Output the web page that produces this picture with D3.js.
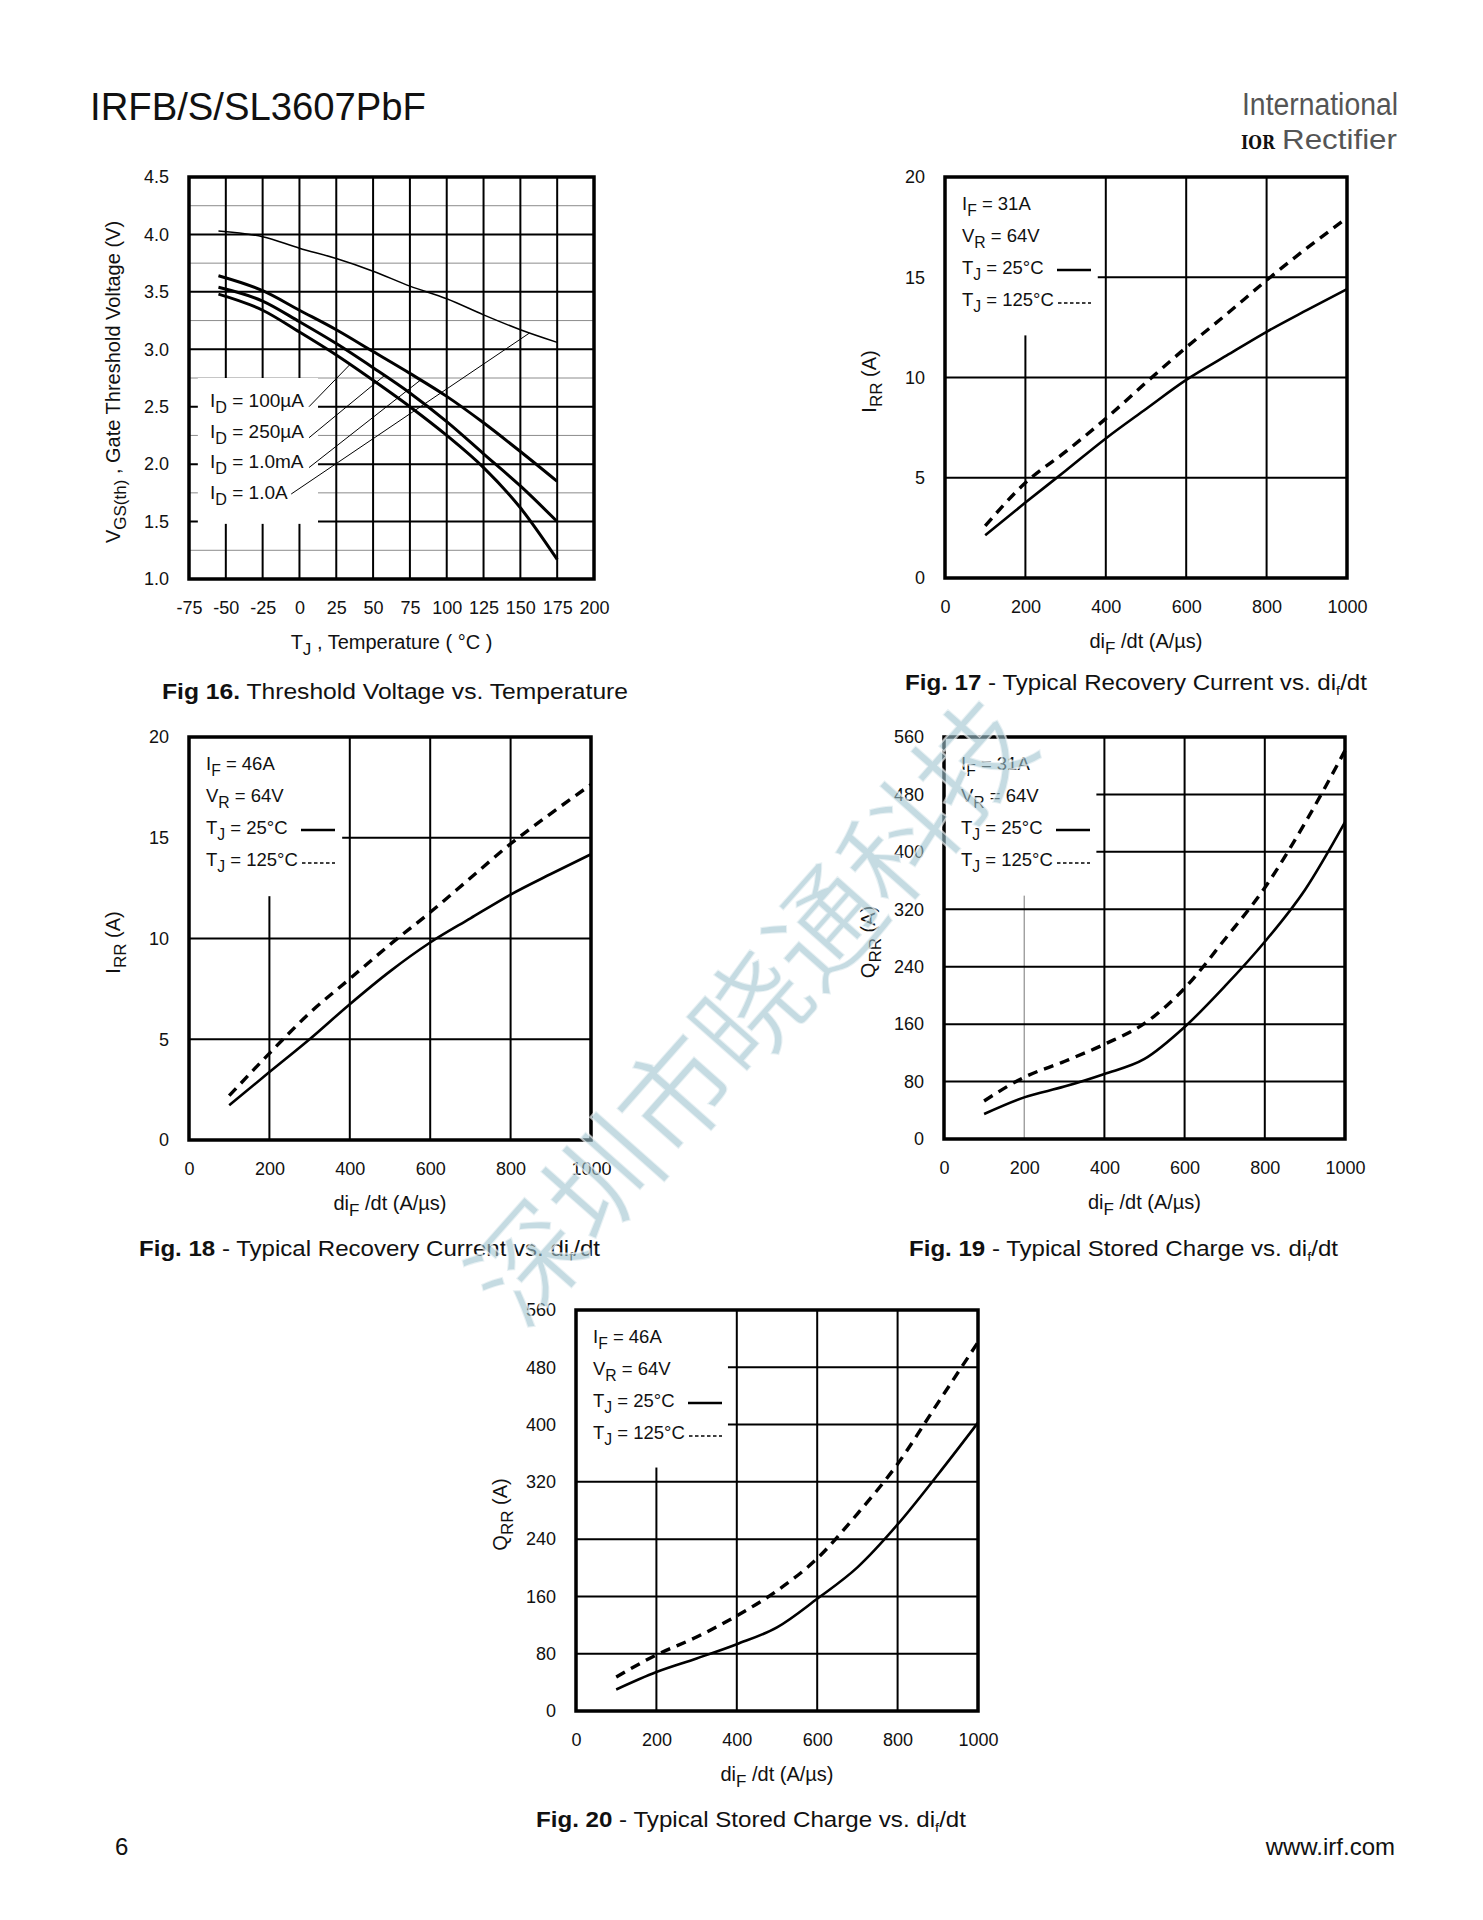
<!DOCTYPE html>
<html>
<head>
<meta charset="utf-8">
<script src="https://cdn.jsdelivr.net/npm/d3@7"></script>
<style>
  body { margin: 0; background: #fff; }
  svg text { font-family: "Liberation Sans", Arial, Helvetica, sans-serif; fill: #111; }
</style>
</head>
<body>
<svg id="page" width="1483" height="1920"></svg>
<script>
// ---- Fig 16 : threshold voltage vs temperature ----
const fig16Temp = [-55, -25, 0, 25, 50, 75, 100, 125, 150, 175];
const vth1A    = [4.03, 3.98, 3.88, 3.79, 3.68, 3.55, 3.44, 3.30, 3.17, 3.06];
const vth1mA   = [3.64, 3.51, 3.34, 3.17, 2.98, 2.79, 2.59, 2.36, 2.11, 1.85];
const vth250uA = [3.54, 3.42, 3.24, 3.05, 2.84, 2.62, 2.37, 2.09, 1.81, 1.50];
const vth100uA = [3.48, 3.34, 3.15, 2.95, 2.73, 2.50, 2.25, 1.97, 1.62, 1.17];
const fig16Labels = ['100µA', '250µA', '1.0mA', '1.0A'];
const fig16LeadFrom = [[6.5, 2.50], [6.5, 2.23], [6.5, 1.97], [-5.6, 1.74]];
const fig16LeadTo   = [[34.5, 2.87], [57.6, 2.77], [82, 2.73], [156, 3.14]];
const fig16XTicks = [-75, -50, -25, 0, 25, 50, 75, 100, 125, 150, 175, 200];
const fig16YTicks = [1.0, 1.5, 2.0, 2.5, 3.0, 3.5, 4.0, 4.5];
const fig16YMinor = [1.25, 1.75, 2.25, 2.75, 3.25, 3.75, 4.25];

// ---- Fig 17-20 : recovery vs dif/dt ----
const difdt = [100, 200, 300, 400, 500, 600, 700, 800, 900, 1000];
const fig17Irr25  = [2.13, 3.76, 5.35, 6.96, 8.43, 9.88, 11.09, 12.28, 13.36, 14.41];
const fig17Irr125 = [2.6, 4.75, 6.3, 7.95, 9.75, 11.5, 13.15, 14.85, 16.45, 17.96];
const fig18Irr25  = [1.72, 3.37, 5.0, 6.74, 8.37, 9.8, 11.0, 12.18, 13.2, 14.18];
const fig18Irr125 = [2.2, 4.3, 6.3, 8.0, 9.7, 11.3, 13.0, 14.7, 16.2, 17.64];
const fig19Qrr25  = [34.8, 58, 73, 90.6, 111.5, 156, 212.5, 274.8, 347, 441.5];
const fig19Qrr125 = [53, 86, 108, 132, 161, 210, 278, 350, 440, 541];
const fig20Qrr25  = [30, 54.4, 73.4, 93.3, 116.8, 156.7, 200.6, 260.5, 330, 402.7];
const fig20Qrr125 = [47.4, 78.3, 103.3, 133, 168, 213, 275.4, 345, 430, 515];
const difXTicks = [0, 200, 400, 600, 800, 1000];
const irrYTicks = [0, 5, 10, 15, 20];
const qrrYTicks = [0, 80, 160, 240, 320, 400, 480, 560];

const svg = d3.select('#page');
svg.append('rect').attr('width', 1483).attr('height', 1920).attr('fill', '#fff');

// text with subscripts: parts = [[str, kind]], kind in 'sub' | 'b' | 'tiny' | null
function rich(t, parts, size) {
  let shift = 0;
  parts.forEach(([s, k]) => {
    const sp = t.append('tspan').text(s);
    const want = k === 'sub' ? size * 0.32 : k === 'tiny' ? size * 0.22 : 0;
    sp.attr('dy', want - shift); shift = want;
    if (k === 'sub') sp.attr('font-size', size * 0.85);
    if (k === 'tiny') sp.attr('font-size', size * 0.6);
    if (k === 'b') sp.attr('font-weight', 'bold');
  });
  return t;
}

function chart(o) {
  const x = d3.scaleLinear().domain(o.xDomain).range([o.left, o.left + o.w]);
  const y = d3.scaleLinear().domain(o.yDomain).range([o.top + o.h, o.top]);
  const g = svg.append('g');
  const [x0, x1] = o.xDomain, [y0, y1] = o.yDomain;

  g.selectAll(null).data(o.yMinor || []).join('line')
    .attr('x1', x(x0)).attr('x2', x(x1)).attr('y1', d => y(d)).attr('y2', d => y(d))
    .attr('stroke', '#8c8c8c').attr('stroke-width', 1);
  g.selectAll(null).data(o.xGrid).join('line')
    .attr('x1', d => x(d)).attr('x2', d => x(d)).attr('y1', y(y0)).attr('y2', y(y1))
    .attr('stroke', d => (o.thinX || []).includes(d) ? '#777' : '#000')
    .attr('stroke-width', d => (o.thinX || []).includes(d) ? 1 : 2);
  g.selectAll(null).data(o.yGrid).join('line')
    .attr('x1', x(x0)).attr('x2', x(x1)).attr('y1', d => y(d)).attr('y2', d => y(d))
    .attr('stroke', '#000').attr('stroke-width', 2);

  // white box behind the legend block
  const m = o.mask;
  g.append('rect').attr('x', x(m[0])).attr('y', y(m[3]))
    .attr('width', x(m[1]) - x(m[0])).attr('height', y(m[2]) - y(m[3])).attr('fill', '#fff');

  g.append('rect').attr('x', o.left).attr('y', o.top).attr('width', o.w).attr('height', o.h)
    .attr('fill', 'none').attr('stroke', '#000').attr('stroke-width', 3.5);

  const line = d3.line().x(d => x(d[0])).y(d => y(d[1])).curve(d3.curveMonotoneX);
  o.series.forEach(s => {
    g.append('path').attr('d', line(s.xs.map((v, i) => [v, s.ys[i]])))
      .attr('fill', 'none').attr('stroke', '#000').attr('stroke-width', s.width)
      .attr('stroke-dasharray', s.dash || null);
  });

  const ax = g.append('g').attr('transform', `translate(0,${o.top + o.h})`)
    .call(d3.axisBottom(x).tickValues(o.xTicks).tickSize(0).tickPadding(22).tickFormat(d => String(d)));
  const ay = g.append('g').attr('transform', `translate(${o.left},0)`)
    .call(d3.axisLeft(y).tickValues(o.yTicks).tickSize(0).tickPadding(20).tickFormat(d3.format(o.yFmt)));
  [ax, ay].forEach(a => {
    a.select('.domain').remove();
    a.selectAll('text').attr('font-size', 18).attr('fill', '#111')
      .style('font-family', '"Liberation Sans", Arial, sans-serif');
  });

  // axis titles
  rich(g.append('text').attr('text-anchor', 'middle').attr('font-size', 20)
    .attr('x', o.left + o.w / 2).attr('y', o.top + o.h + 70), o.xTitle, 20);
  rich(g.append('text').attr('text-anchor', 'middle').attr('font-size', 20)
    .attr('transform', `translate(${o.left - 69},${o.top + o.h / 2 + 4}) rotate(-90)`), o.yTitle, 20);

  // caption
  rich(g.append('text').attr('font-size', 22.5).attr('x', o.cap[0]).attr('y', o.cap[1])
    .attr('textLength', o.cap[2]).attr('lengthAdjust', 'spacingAndGlyphs'), o.caption, 22.5);
  return { x, y, g };
}

// ---------- Fig 16 ----------
const f16 = chart({
  left: 189, top: 177, w: 405, h: 402,
  xDomain: [-75, 200], yDomain: [1.0, 4.5],
  xGrid: d3.range(-50, 200, 25), yGrid: [1.5, 2.0, 2.5, 3.0, 3.5, 4.0], yMinor: fig16YMinor,
  xTicks: fig16XTicks, yTicks: fig16YTicks, yFmt: '.1f',
  mask: [-69, 12.6, 1.48, 2.75],
  series: [
    { xs: fig16Temp, ys: vth1A, width: 1.5 },
    { xs: fig16Temp, ys: vth1mA, width: 3 },
    { xs: fig16Temp, ys: vth250uA, width: 3 },
    { xs: fig16Temp, ys: vth100uA, width: 3 }
  ],
  xTitle: [['T', null], ['J', 'sub'], [' , Temperature ( °C )', null]],
  yTitle: [['V', null], ['GS(th)', 'sub'], [' , Gate Threshold Voltage (V)', null]],
  caption: [['Fig 16.', 'b'], ['  Threshold Voltage vs. Temperature', null]],
  cap: [162, 699, 466]
});
f16.g.selectAll(null).data(fig16LeadFrom).join('line')
  .attr('x1', d => f16.x(d[0])).attr('y1', d => f16.y(d[1]))
  .attr('x2', (d, i) => f16.x(fig16LeadTo[i][0])).attr('y2', (d, i) => f16.y(fig16LeadTo[i][1]))
  .attr('stroke', '#000').attr('stroke-width', 1);
fig16Labels.forEach((lab, i) => {
  rich(f16.g.append('text').attr('font-size', 19).attr('x', 210).attr('y', 407 + i * 30.7),
    [['I', null], ['D', 'sub'], [' = ' + lab, null]], 19);
});

// ---------- Fig 17-20 ----------
function recovery(o, ifLabel) {
  const c = chart(o);
  const L = o.left, T = o.top;
  const rows = [
    [['I', null], ['F', 'sub'], [' = ' + ifLabel, null]],
    [['V', null], ['R', 'sub'], [' = 64V', null]],
    [['T', null], ['J', 'sub'], [' = 25°C', null]],
    [['T', null], ['J', 'sub'], [' = 125°C', null]]
  ];
  rows.forEach((r, i) => rich(c.g.append('text').attr('font-size', 18.5)
    .attr('x', L + 17).attr('y', T + 33 + i * 32), r, 18.5));
  c.g.append('line').attr('x1', L + 112).attr('x2', L + 146).attr('y1', T + 93).attr('y2', T + 93)
    .attr('stroke', '#000').attr('stroke-width', 2.5);
  c.g.append('line').attr('x1', L + 113).attr('x2', L + 146).attr('y1', T + 126).attr('y2', T + 126)
    .attr('stroke', '#000').attr('stroke-width', 1.3).attr('stroke-dasharray', '3.5,2.5');
}

const irrTitle = [['I', null], ['RR', 'sub'], [' (A)', null]];
const qrrTitle = [['Q', null], ['RR', 'sub'], [' (A)', null]];
const difTitle = [['di', null], ['F', 'sub'], [' /dt (A/µs)', null]];

recovery({
  left: 945, top: 177, w: 402, h: 401, xDomain: [0, 1000], yDomain: [0, 20],
  xGrid: [200, 400, 600, 800], yGrid: [5, 10, 15], xTicks: difXTicks, yTicks: irrYTicks, yFmt: 'd',
  mask: [0, 380, 12.1, 20],
  series: [{ xs: difdt, ys: fig17Irr25, width: 2.6 }, { xs: difdt, ys: fig17Irr125, width: 3.4, dash: '10,7' }],
  xTitle: difTitle, yTitle: irrTitle,
  caption: [['Fig. 17', 'b'], [' - Typical Recovery Current vs. di', null], ['f', 'tiny'], ['/dt', null]],
  cap: [905, 690, 462]
}, '31A');

recovery({
  left: 189, top: 737, w: 402, h: 403, xDomain: [0, 1000], yDomain: [0, 20],
  xGrid: [200, 400, 600, 800], yGrid: [5, 10, 15], xTicks: difXTicks, yTicks: irrYTicks, yFmt: 'd',
  mask: [0, 381, 12.1, 20],
  series: [{ xs: difdt, ys: fig18Irr25, width: 2.6 }, { xs: difdt, ys: fig18Irr125, width: 3.4, dash: '10,7' }],
  xTitle: difTitle, yTitle: irrTitle,
  caption: [['Fig. 18', 'b'], [' - Typical Recovery Current vs. di', null], ['f', 'tiny'], ['/dt', null]],
  cap: [139, 1256, 461]
}, '46A');

recovery({
  left: 944, top: 737, w: 401, h: 402, xDomain: [0, 1000], yDomain: [0, 560],
  xGrid: [200, 400, 600, 800], thinX: [200], yGrid: [80, 160, 240, 320, 400, 480],
  xTicks: difXTicks, yTicks: qrrYTicks, yFmt: 'd',
  mask: [0, 380, 339, 560],
  series: [{ xs: difdt, ys: fig19Qrr25, width: 2.6 }, { xs: difdt, ys: fig19Qrr125, width: 3.4, dash: '10,7' }],
  xTitle: difTitle, yTitle: qrrTitle,
  caption: [['Fig. 19', 'b'], [' - Typical Stored Charge vs. di', null], ['f', 'tiny'], ['/dt', null]],
  cap: [909, 1256, 429]
}, '31A');

recovery({
  left: 576, top: 1310, w: 402, h: 401, xDomain: [0, 1000], yDomain: [0, 560],
  xGrid: [200, 400, 600, 800], yGrid: [80, 160, 240, 320, 400, 480],
  xTicks: difXTicks, yTicks: qrrYTicks, yFmt: 'd',
  mask: [0, 378, 340, 560],
  series: [{ xs: difdt, ys: fig20Qrr25, width: 2.6 }, { xs: difdt, ys: fig20Qrr125, width: 3.4, dash: '10,7' }],
  xTitle: difTitle, yTitle: qrrTitle,
  caption: [['Fig. 20', 'b'], [' - Typical Stored Charge vs. di', null], ['f', 'tiny'], ['/dt', null]],
  cap: [536, 1827, 430]
}, '46A');

// ---------- page furniture ----------
svg.append('text').attr('x', 90).attr('y', 120).attr('font-size', 39)
  .attr('textLength', 336).attr('lengthAdjust', 'spacingAndGlyphs').text('IRFB/S/SL3607PbF');
svg.append('text').attr('x', 1242).attr('y', 115).attr('font-size', 31)
  .style('fill', '#555')
  .attr('textLength', 156).attr('lengthAdjust', 'spacingAndGlyphs').text('International');
svg.append('text').attr('x', 1241).attr('y', 149).attr('font-size', 19).attr('font-weight', 'bold')
  .style('font-family', '"DejaVu Serif", serif')
  .attr('textLength', 34).attr('lengthAdjust', 'spacingAndGlyphs').text('IOR');
svg.append('text').attr('x', 1282).attr('y', 149).attr('font-size', 28)
  .style('fill', '#555')
  .attr('textLength', 115).attr('lengthAdjust', 'spacingAndGlyphs').text('Rectifier');
svg.append('text').attr('x', 115).attr('y', 1855).attr('font-size', 24).text('6');
svg.append('text').attr('x', 1395).attr('y', 1855).attr('font-size', 24)
  .attr('text-anchor', 'end').text('www.irf.com');

// watermark across the middle
svg.append('text')
  .attr('transform', 'translate(745,1006) rotate(-48.5)')
  .attr('text-anchor', 'middle').attr('dominant-baseline', 'central')
  .attr('font-size', 112)
  .style('font-family', '"Noto Sans CJK SC", sans-serif')
  .style('fill', '#9fc3cf').attr('fill-opacity', 0.6)
  .attr('stroke', '#fff').attr('stroke-width', 2).attr('stroke-opacity', 0.6)
  .text('深圳市晓通科技');
</script>
</body>
</html>
